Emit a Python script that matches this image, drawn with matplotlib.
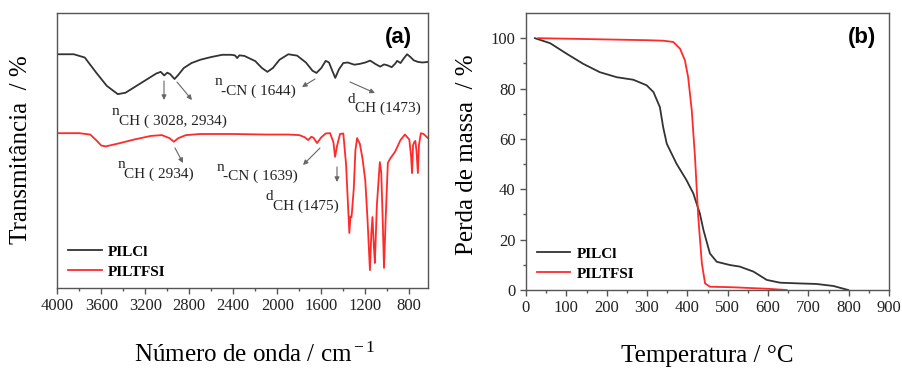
import numpy as np
import matplotlib
matplotlib.use("Agg")
import matplotlib.pyplot as plt

plt.rcParams['font.family'] = ['Liberation Serif', 'DejaVu Serif']
plt.rcParams['mathtext.fontset'] = 'custom'
plt.rcParams['mathtext.rm'] = 'Liberation Serif'
plt.rcParams['mathtext.it'] = 'Liberation Serif:italic'

# (a) FTIR spectra (wavenumber cm-1, transmittance a.u.)
wn_pilcl = [4000, 3850, 3750, 3650, 3550, 3450, 3380, 3300, 3200, 3100, 3060, 3028,
            3000, 2975, 2934, 2900, 2850, 2780, 2700, 2600, 2500, 2420, 2385, 2365,
            2345, 2300, 2200, 2140, 2090, 2040, 1980, 1900, 1820, 1740, 1680, 1644,
            1600, 1560, 1530, 1500, 1473, 1440, 1400, 1360, 1300, 1250, 1200, 1156,
            1110, 1065, 1030, 1000, 960, 930, 910, 880, 850, 820, 790, 760, 720, 680, 630]
tr_pilcl = [85.0, 85.0, 83.8, 78.5, 73.5, 70.5, 71.0, 73.0, 75.5, 78.0, 78.6, 77.3,
            78.3, 77.8, 76.0, 77.5, 80.0, 81.8, 83.0, 84.0, 84.8, 84.8, 84.6, 83.6,
            84.6, 84.4, 82.5, 80.0, 78.6, 80.0, 83.0, 85.0, 84.5, 82.0, 79.0, 78.2,
            80.0, 82.6, 82.0, 79.0, 76.4, 79.5, 81.8, 82.0, 81.2, 81.5, 82.0, 82.7,
            81.5, 80.5, 81.3, 81.0, 80.3, 81.5, 82.6, 81.8, 83.5, 85.0, 84.0, 82.8,
            82.2, 82.0, 82.2]

wn_piltfsi = [4000, 3800, 3700, 3640, 3600, 3560, 3450, 3300, 3150, 3050, 2980, 2940,
              2900, 2830, 2700, 2400, 2100, 1900, 1800, 1750, 1720, 1690, 1670, 1639,
              1600, 1560, 1520, 1490, 1475, 1455, 1430, 1400, 1375, 1345, 1335, 1325,
              1305, 1290, 1275, 1250, 1225, 1200, 1180, 1158, 1145, 1135, 1122, 1113,
              1095, 1068, 1055, 1042, 1030, 1015, 995, 970, 930, 880, 840, 800, 784,
              775, 766, 755, 745, 735, 722, 712, 695, 670, 630]
tr_piltfsi = [56.3, 56.3, 55.8, 53.5, 51.8, 51.5, 52.5, 54.0, 55.3, 55.6, 54.5, 53.2,
              54.5, 55.6, 56.0, 56.0, 55.8, 55.8, 55.6, 54.8, 53.8, 55.0, 54.6, 52.7,
              54.8, 56.2, 56.3, 53.0, 47.7, 52.0, 56.0, 56.2, 45.0, 20.0, 26.0, 25.8,
              36.0, 50.0, 54.5, 52.5, 47.0, 39.0, 25.0, 6.5, 20.0, 25.8, 15.0, 9.1,
              30.0, 45.8, 42.0, 25.0, 7.3, 25.0, 45.5, 47.3, 49.5, 53.8, 55.8, 54.0,
              48.0, 41.8, 52.0, 53.0, 53.5, 50.0, 41.8, 52.0, 56.3, 56.0, 54.5]

# (b) TGA curves (temperature C, mass %)
t_pilcl = [22, 60, 101, 142, 183, 225, 266, 299, 316, 332, 340, 349, 373, 398, 415,
           431, 440, 456, 473, 506, 530, 564, 597, 630, 680, 720, 762, 799]
m_pilcl = [100, 98.0, 93.8, 89.8, 86.5, 84.5, 83.5, 81.3, 78.6, 72.6, 64.7, 58.1,
           50.2, 43.6, 38.3, 30.4, 23.8, 14.5, 11.2, 9.9, 9.3, 7.3, 4.0, 2.9, 2.6,
           2.4, 1.6, 0.0]

t_piltfsi = [30, 100, 200, 300, 340, 365, 382, 394, 402, 411, 419, 427, 436, 444,
             456, 510, 597, 646]
m_piltfsi = [100, 99.8, 99.5, 99.2, 99.0, 98.5, 95.8, 91.2, 84.5, 71.3, 52.8, 29.1,
             10.6, 2.6, 1.3, 1.1, 0.5, 0.0]

black = '#333333'
red = '#ff2a2a'
W, H = 902, 371


def fig_xy(px, py):
    return (px / W, 1 - py / H)


fig = plt.figure(figsize=(W / 100, H / 100), dpi=100)
ax1 = fig.add_axes([57.3 / W, 1 - 288 / H, (428 - 57.3) / W, 275 / H])
ax2 = fig.add_axes([526 / W, 1 - 290 / H, 363 / W, 277 / H])

for ax in (ax1, ax2):
    for s in ax.spines.values():
        s.set_color('#555555')
        s.set_linewidth(1.0)
    ax.tick_params(direction='out', colors='#555555', labelcolor='#222222',
                   labelsize=12, length=4, width=1.0, labelfontfamily='Liberation Serif')
    ax.tick_params(which='minor', direction='out', colors='#555555', length=2.5, width=1.0)

legend_kw = dict(loc='lower left', bbox_to_anchor=(0.0, -0.005), frameon=False,
                 prop={'size': 11, 'weight': 'bold'}, handlelength=2.2,
                 handletextpad=0.4, labelspacing=0.42, borderaxespad=0.3)

# ---- panel (a)
ax1.plot(wn_pilcl, tr_pilcl, color=black, lw=1.3, label='PILCl')
ax1.plot(wn_piltfsi, tr_piltfsi, color=red, lw=1.3, label='PILTFSI')
ax1.set_xlim(4000, 630)
ax1.set_ylim(0, 100)
ax1.set_xticks(np.arange(4000, 700, -400))
ax1.set_xticks(np.arange(3800, 600, -400), minor=True)
ax1.set_yticks([])
ax1.set_xlabel(r'Número de onda / cm$^{\rm -1}$', fontsize=18)
ax1.xaxis.set_label_coords(0.533, -0.2)
ax1.set_ylabel('Transmitância  / %', fontsize=18)
ax1.yaxis.set_label_coords(-0.068, 0.502)
ax1.legend(**legend_kw)

# ---- panel (b)
ax2.plot(t_pilcl, m_pilcl, color=black, lw=1.3, label='PILCl')
ax2.plot(t_piltfsi, m_piltfsi, color=red, lw=1.3, label='PILTFSI')
ax2.set_xlim(0, 900)
ax2.set_ylim(0, 110)
ax2.set_xticks(np.arange(0, 901, 100))
ax2.set_xticks(np.arange(50, 900, 100), minor=True)
ax2.set_yticks(np.arange(0, 101, 20))
ax2.set_yticks(np.arange(10, 110, 20), minor=True)
ax2.set_xlabel('Temperatura / °C', fontsize=18)
ax2.xaxis.set_label_coords(0.499, -0.2)
ax2.set_ylabel('Perda de massa  / %', fontsize=18)
ax2.yaxis.set_label_coords(-0.132, 0.487)
ax2.legend(**legend_kw)

# panel letters
fig.text(*fig_xy(398, 38), '(a)', fontsize=16, fontweight='bold',
         family='Liberation Sans', ha='center', va='center')
fig.text(*fig_xy(862, 38), '(b)', fontsize=16, fontweight='bold',
         family='Liberation Sans', ha='center', va='center')

# band assignments: raised letter, then the label on a lower baseline
labels = [
    (112, 115, 'n', 119, 125, 'CH ( 3028, 2934)'),
    (215, 85, 'n', 221, 95, '-CN ( 1644)'),
    (347, 103, 'd', 355, 112, 'CH (1473)'),
    (118, 168, 'n', 124, 178, 'CH ( 2934)'),
    (217, 171, 'n', 223, 180, '-CN ( 1639)'),
    (266, 200, 'd', 273, 210, 'CH (1475)'),
]
for lx, ly, letter, tx, ty, s in labels:
    fig.text(*fig_xy(lx, ly), letter, fontsize=11, color='#222222', ha='left', va='baseline')
    fig.text(*fig_xy(tx, ty), s, fontsize=11, color='#222222', ha='left', va='baseline')

arrows = [
    ((164, 81), (164, 100)),
    ((177, 82), (192, 100)),
    ((315, 79), (302, 87)),
    ((350, 82), (375, 93)),
    ((175, 148), (183, 163)),
    ((320, 148), (303, 165)),
    ((337, 167), (337, 182)),
]
for (x0, y0), (x1, y1) in arrows:
    ax1.annotate('', xy=fig_xy(x1, y1), xytext=fig_xy(x0, y0),
                 xycoords='figure fraction', textcoords='figure fraction',
                 arrowprops=dict(arrowstyle='-|>', color='#666666', lw=0.8,
                                 mutation_scale=7, shrinkA=0, shrinkB=0))

fig.savefig('out.png', dpi=100)
